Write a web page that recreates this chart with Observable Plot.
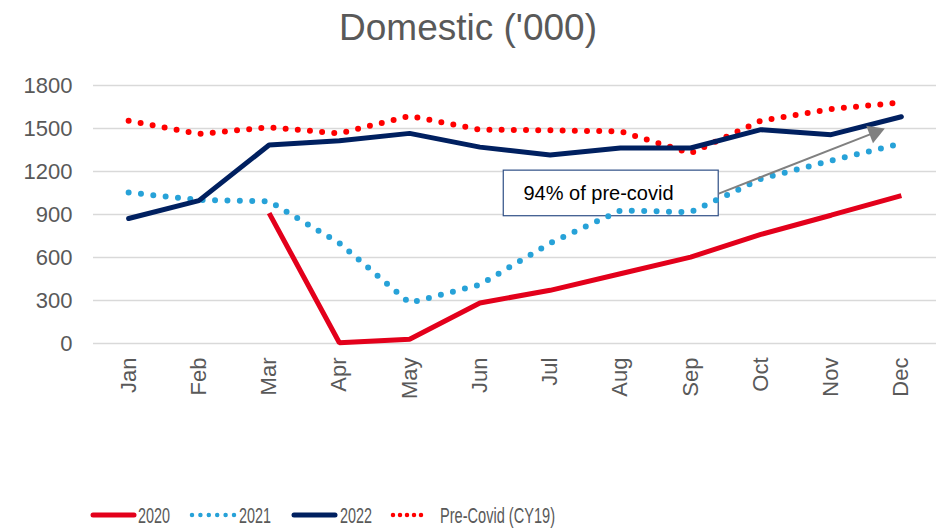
<!DOCTYPE html>
<html>
<head>
<meta charset="utf-8">
<script src="https://cdn.jsdelivr.net/npm/d3@7"></script>
<script src="https://cdn.jsdelivr.net/npm/@observablehq/plot@0.6"></script>
<style>
  html, body { margin: 0; padding: 0; background: #fff; }
  #wrap { position: relative; width: 936px; height: 530px; overflow: hidden; font-family: "Liberation Sans", Arial, sans-serif; }
  #title { position: absolute; left: 0; top: 0; width: 936px; height: 60px; text-align: center; line-height: 56px; font-size: 37px; color: #595959; }
  #chart { position: absolute; left: 0; top: 60px; }
  #legend { position: absolute; left: 0; top: 490px; width: 936px; height: 40px; }
</style>
</head>
<body>
<div id="wrap">
  <div id="title"></div>
  <div id="chart"></div>
  <svg id="legend" width="936" height="40"></svg>
</div>
<script>
const titleText = "Domestic ('000)";
const months = ["Jan","Feb","Mar","Apr","May","Jun","Jul","Aug","Sep","Oct","Nov","Dec"];
const v2020 = [null, null, 910, 5, 30, 283, 371, 487, 603, 761, 895, 1032];
const v2021 = [1053, 1002, 992, 700, 283, 410, 700, 928, 916, 1148, 1276, 1395];
const v2022 = [872, 997, 1385, 1415, 1466, 1370, 1315, 1364, 1364, 1492, 1457, 1582];
const preCovid = [1554, 1462, 1508, 1466, 1587, 1492, 1487, 1480, 1327, 1554, 1636, 1682];
const yTicks = [0, 300, 600, 900, 1200, 1500, 1800];
const seriesNames = ["2020", "2021", "2022", "Pre-Covid (CY19)"];
const seriesColors = ["#E3001B", "#27A2D8", "#002060", "#FF0000"];
const annotationText = "94% of pre-covid";
// annotation box and arrow in data units (month index, value)
const annBox = {x1: 5.34, x2: 8.4, y1: 888, y2: 1206};
const annLabel = {x: 5.62, y: 1046};
const annArrow = {x1: 8.4, y1: 1046, x2: 10.6, y2: 1468};
const annHead = {x: 10.62, y: 1472};

document.getElementById("title").textContent = titleText;

const toRows = (arr, s) => arr.map((v, i) => ({i, v, s})).filter(d => d.v != null);
const r2020 = toRows(v2020, "2020");
const r2021 = toRows(v2021, "2021");
const r2022 = toRows(v2022, "2022");
const rPre = toRows(preCovid, "pre");

const chart = Plot.plot({
  width: 936,
  height: 430,
  marginTop: 25,
  marginBottom: 147,
  marginLeft: 93,
  marginRight: 0,
  style: {fontFamily: "Liberation Sans, Arial, sans-serif", background: "#fff"},
  x: {type: "linear", domain: [-0.5, 11.5], axis: null},
  y: {domain: [0, 1800], axis: null},
  marks: [
    Plot.ruleY(yTicks, {stroke: "#d9d9d9", strokeWidth: 1.5}),
    Plot.axisY(yTicks, {tickSize: 0, tickPadding: 21, fontSize: 22, fill: "#595959", label: null, tickFormat: d => String(d)}),
    Plot.axisX(d3.range(12), {tickSize: 0, tickPadding: 14, tickRotate: -90, fontSize: 22, fill: "#595959", label: null, tickFormat: i => months[i]}),
    Plot.rect([annBox], {x1: "x1", x2: "x2", y1: "y1", y2: "y2", fill: "#fff", stroke: "#2F4F86", strokeWidth: 1.2}),
    Plot.line(rPre, {x: "i", y: "v", stroke: seriesColors[3], strokeWidth: 6, strokeDasharray: "0 12.2", strokeLinecap: "round"}),
    Plot.line(r2021, {x: "i", y: "v", stroke: seriesColors[1], strokeWidth: 6, strokeDasharray: "0 12.4", strokeLinecap: "round"}),
    Plot.line(r2022, {x: "i", y: "v", stroke: seriesColors[2], strokeWidth: 5, strokeLinecap: "round", strokeLinejoin: "miter"}),
    Plot.line(r2020, {x: "i", y: "v", stroke: seriesColors[0], strokeWidth: 5, strokeLinecap: "butt", strokeLinejoin: "miter"}),
    Plot.link([annArrow], {x1: "x1", y1: "y1", x2: "x2", y2: "y2", stroke: "#808080", strokeWidth: 2}),
    Plot.dot([annHead], {x: "x", y: "y", symbol: "triangle", r: 7, fill: "#808080", stroke: "none", rotate: 69}),
    Plot.text([annLabel], {x: "x", y: "y", text: () => annotationText, textAnchor: "start", fontSize: 20, fill: "#000"})
  ]
});
document.getElementById("chart").appendChild(chart);

// legend
const leg = d3.select("#legend");
const cy = 25;
const items = [
  {name: seriesNames[0], color: seriesColors[0], x0: 93, x1: 134, tx: 138, len: 32, dash: null, w: 5},
  {name: seriesNames[1], color: seriesColors[1], x0: 192, x1: 234, tx: 239, len: 32, dash: "0 8.4", w: 4.5},
  {name: seriesNames[2], color: seriesColors[2], x0: 294, x1: 335, tx: 340, len: 32, dash: null, w: 5},
  {name: seriesNames[3], color: seriesColors[3], x0: 393, x1: 428, tx: 440, len: 115, dash: "0 7", w: 4.5}
];
items.forEach(it => {
  const l = leg.append("line").attr("x1", it.x0).attr("x2", it.x1).attr("y1", cy).attr("y2", cy)
    .attr("stroke", it.color).attr("stroke-width", it.w).attr("stroke-linecap", "round");
  if (it.dash) l.attr("stroke-dasharray", it.dash);
  leg.append("text").attr("x", it.tx).attr("y", cy).attr("dy", "0.36em")
    .attr("font-family", "Liberation Sans, Arial, sans-serif")
    .attr("textLength", it.len).attr("lengthAdjust", "spacingAndGlyphs")
    .attr("font-size", 22).attr("fill", "#595959").text(it.name);
});
</script>
</body>
</html>
